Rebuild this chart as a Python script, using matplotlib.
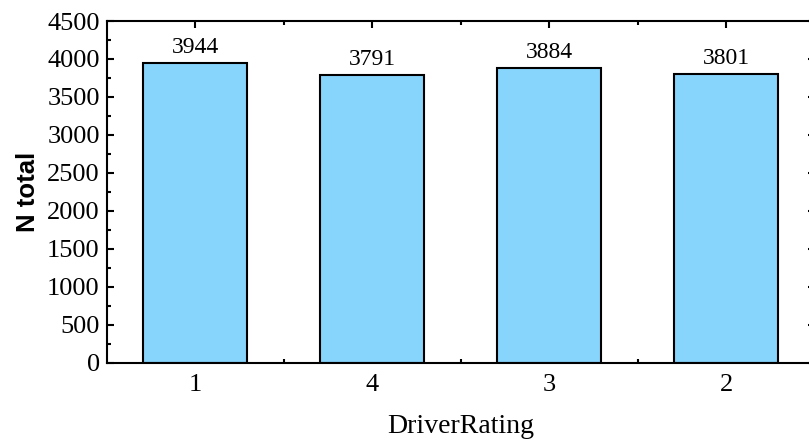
import matplotlib
matplotlib.use("Agg")
import matplotlib.pyplot as plt
from matplotlib.ticker import MultipleLocator, FixedLocator

categories = ["1", "4", "3", "2"]
values = [3944, 3791, 3884, 3801]

W, H = 809, 443
fig = plt.figure(figsize=(W / 100, H / 100), dpi=100)
left, right, top, bottom = 106.7, 814.5, 21.0, 362.7
ax = fig.add_axes([left / W, 1 - bottom / H, (right - left) / W, (bottom - top) / H])

x = list(range(len(categories)))
bars = ax.bar(x, values, width=0.59, color="#87D4FC", edgecolor="black", linewidth=1.5, zorder=2)

serif = "Liberation Serif"
for xi, v in zip(x, values):
    ax.text(xi, v + 65, str(v), ha="center", va="bottom", fontsize=17, family=serif)

ax.set_xlim(-0.5, len(categories) - 0.5)
ax.set_ylim(0, 4500)
ax.set_xticks(x)
ax.set_xticklabels(categories, fontsize=19, family=serif)
ax.xaxis.set_minor_locator(FixedLocator([i + 0.5 for i in x[:-1]]))
ax.yaxis.set_major_locator(MultipleLocator(500))
ax.yaxis.set_minor_locator(MultipleLocator(250))
for lab in ax.get_yticklabels():
    lab.set_fontsize(19)
    lab.set_family(serif)

ax.tick_params(axis="both", which="major", direction="in", length=5, width=1.5,
               top=True, right=True)
ax.tick_params(axis="both", which="minor", direction="in", length=3, width=1.5,
               top=True, right=True)
ax.tick_params(axis="x", which="major", pad=8)
ax.tick_params(axis="y", which="major", pad=5)
for s in ax.spines.values():
    s.set_linewidth(1.5)

ax.set_xlabel("DriverRating", fontsize=20, family=serif, labelpad=13)
ax.set_ylabel("N total", fontsize=18.5, family="Liberation Sans", fontweight="bold", labelpad=5)

fig.savefig("out.png", dpi=100)
